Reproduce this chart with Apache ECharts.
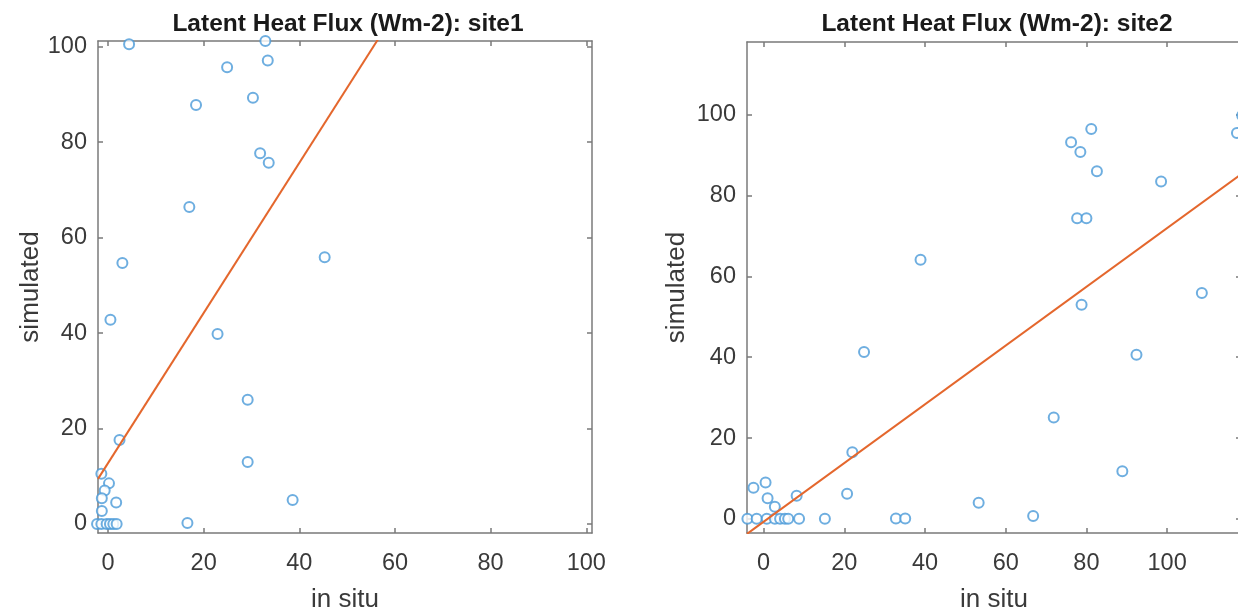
<!DOCTYPE html>
<html>
<head>
<meta charset="utf-8">
<script src="https://cdn.jsdelivr.net/npm/echarts@6/dist/echarts.min.js"></script>
<style>
html,body{margin:0;padding:0;background:#fff;}
#chart{width:1238px;height:609px;}
</style>
</head>
<body>
<div id="chart"></div>
<script>
// ---- data ----
const titles = ['Latent Heat Flux (Wm-2): site1', 'Latent Heat Flux (Wm-2): site2'];
const xName = 'in situ';
const yName = 'simulated';
const ticks = [0, 20, 40, 60, 80, 100];

const site1X = [4.4, 32.9, 33.4, 24.9, 18.4, 30.3, 31.8, 33.6, 17.0, 3.0, 45.3, 0.5, 22.9, 29.2, 29.2, 38.6, 16.6, 2.4, -1.4, 0.2, -0.7, -1.3, 1.7, -1.3, -2.3, -1.4, -0.3, 0.4, 1.1, 1.8];
const site1Y = [100.5, 101.2, 97.1, 95.7, 87.8, 89.3, 77.7, 75.7, 66.4, 54.7, 55.9, 42.8, 39.8, 26.0, 13.0, 5.0, 0.2, 17.6, 10.5, 8.5, 7.0, 5.4, 4.5, 2.7, 0, 0, 0, 0, 0, 0];

const site2X = [81.2, 76.2, 78.5, 82.6, 98.5, 77.7, 80.0, 38.9, 108.6, 78.8, 117.3, 118.6, 92.4, 24.9, 22.0, 71.9, 88.9, 20.7, 53.3, 66.8, 32.8, 35.1, 15.2, -2.5, 0.5, 1.0, 8.2, 2.8, -4.0, -1.7, 0.8, 2.8, 4.1, 5.3, 6.1, 8.8];
const site2Y = [96.5, 93.2, 90.8, 86.0, 83.5, 74.4, 74.4, 64.1, 55.9, 53.0, 95.5, 99.8, 40.6, 41.3, 16.5, 25.1, 11.8, 6.2, 4.0, 0.7, 0.1, 0.1, 0, 7.7, 9.0, 5.1, 5.7, 3.0, 0, 0, 0, 0, 0, 0, 0, 0];

// linear fit (slope, intercept)
const fit1 = [1.573, 12.75];
const fit2 = [0.727, -0.74];

// axis limits
const xLim1 = [-2.1, 101.2], yLim1 = [-1.9, 101.2];
const xLim2 = [-4.1, 118.3], yLim2 = [-3.5, 118.0];

// ---- styling ----
const FONT = "'Liberation Sans', Arial, Helvetica, sans-serif";
const AXIS_COLOR = '#7a7a7a';
const LABEL_COLOR = '#3a3a3a';
const BLUE = '#4a9ad8';
const ORANGE = '#e4672d';

function pts(xs, ys) { return xs.map((x, i) => [x, ys[i]]); }
function fitLine(f, lim) { return [[lim[0], f[0] * lim[0] + f[1]], [lim[1], f[0] * lim[1] + f[1]]]; }

function mainAxis(grid, lim, pos, nameGap, isX) {
  return {
    type: 'value', gridIndex: grid, position: pos, min: lim[0], max: lim[1],
    name: isX ? xName : yName, nameLocation: 'middle', nameGap: nameGap,
    nameTextStyle: { fontFamily: FONT, fontSize: 26, color: LABEL_COLOR },
    axisLine: { show: true, onZero: false, lineStyle: { color: AXIS_COLOR, width: 1.5 } },
    axisTick: { show: true, inside: true, length: 5, customValues: ticks, lineStyle: { color: AXIS_COLOR, width: 1.5 } },
    axisLabel: { show: true, customValues: ticks, margin: isX ? 19 : 11, fontFamily: FONT, fontSize: 23.5, color: LABEL_COLOR },
    splitLine: { show: false }
  };
}
function boxAxis(grid, lim, pos) {
  return {
    type: 'value', gridIndex: grid, position: pos, min: lim[0], max: lim[1],
    axisLine: { show: true, onZero: false, lineStyle: { color: AXIS_COLOR, width: 1.5 } },
    axisTick: { show: true, inside: true, length: 5, customValues: ticks, lineStyle: { color: AXIS_COLOR, width: 1.5 } },
    axisLabel: { show: false },
    splitLine: { show: false }
  };
}

const chart = echarts.init(document.getElementById('chart'), null, { renderer: 'canvas' });
chart.setOption({
  backgroundColor: '#fff',
  animation: false,
  title: [
    { text: titles[0], left: 343, top: 7, textAlign: 'center', textStyle: { fontFamily: FONT, fontSize: 24.5, fontWeight: 'bold', color: '#1a1a1a' } },
    { text: titles[1], left: 992, top: 7, textAlign: 'center', textStyle: { fontFamily: FONT, fontSize: 24.5, fontWeight: 'bold', color: '#1a1a1a' } }
  ],
  grid: [
    { left: 98, top: 41, width: 494, height: 492, containLabel: false, outerBoundsMode: 'none' },
    { left: 747, top: 42, width: 494, height: 491, containLabel: false, outerBoundsMode: 'none' }
  ],
  xAxis: [
    mainAxis(0, xLim1, 'bottom', 54, true),
    boxAxis(0, xLim1, 'top'),
    mainAxis(1, xLim2, 'bottom', 54, true),
    boxAxis(1, xLim2, 'top')
  ],
  yAxis: [
    mainAxis(0, yLim1, 'left', 48, false),
    boxAxis(0, yLim1, 'right'),
    mainAxis(1, yLim2, 'left', 57, false),
    boxAxis(1, yLim2, 'right')
  ],
  series: [
    { type: 'scatter', xAxisIndex: 0, yAxisIndex: 0, data: pts(site1X, site1Y), symbol: 'emptyCircle', symbolSize: 10, clip: false,
      itemStyle: { color: BLUE, borderColor: BLUE, borderWidth: 1.5 } },
    { type: 'line', xAxisIndex: 0, yAxisIndex: 0, data: fitLine(fit1, xLim1), showSymbol: false, clip: true,
      lineStyle: { color: ORANGE, width: 2 } },
    { type: 'scatter', xAxisIndex: 2, yAxisIndex: 2, data: pts(site2X, site2Y), symbol: 'emptyCircle', symbolSize: 10, clip: false,
      itemStyle: { color: BLUE, borderColor: BLUE, borderWidth: 1.5 } },
    { type: 'line', xAxisIndex: 2, yAxisIndex: 2, data: fitLine(fit2, xLim2), showSymbol: false, clip: true,
      lineStyle: { color: ORANGE, width: 2 } }
  ]
});
</script>
</body>
</html>
